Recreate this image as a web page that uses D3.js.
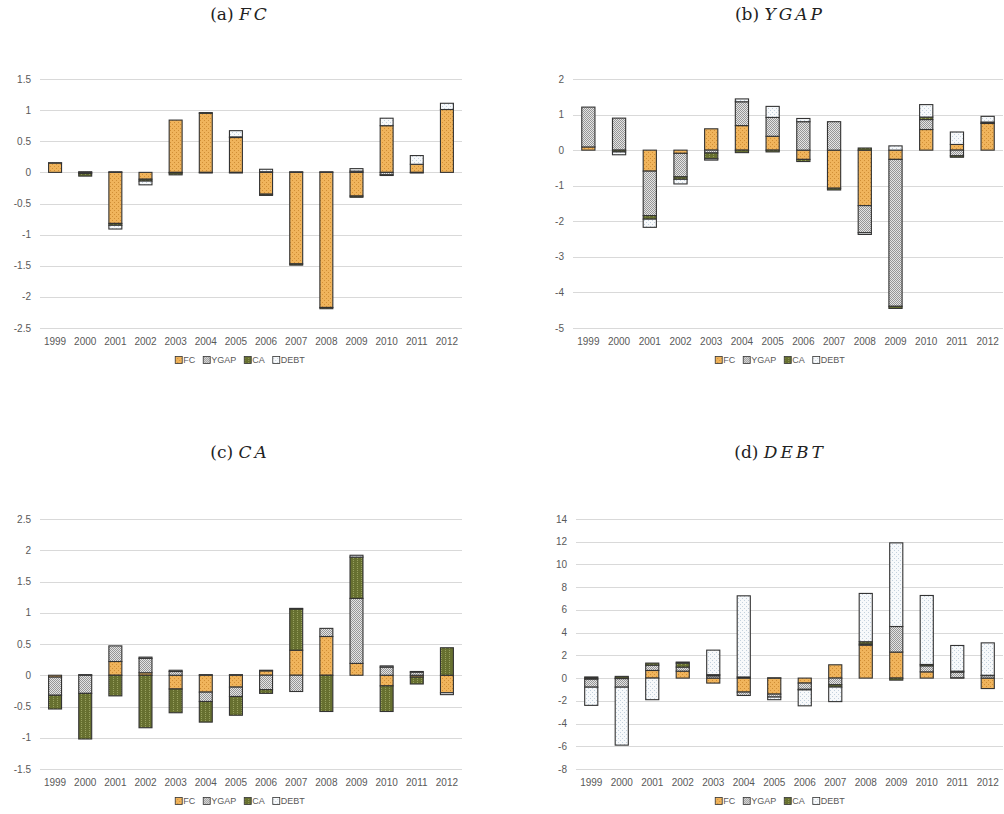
<!DOCTYPE html>
<html>
<head>
<meta charset="utf-8">
<script src="https://cdn.jsdelivr.net/npm/d3@7"></script>
<style>
  body { margin: 0; background: #fff; }
  svg { display: block; }
  .tick-label, .legend text { font-family: "Liberation Sans", Arial, sans-serif; fill: #595959; }
  .title { font-family: "DejaVu Serif", "Liberation Serif", serif; fill: #222; }
</style>
</head>
<body>
<div id="chart"></div>
<script>
/* DATA */

var years = ["1999","2000","2001","2002","2003","2004","2005","2006","2007","2008","2009","2010","2011","2012"];
var seriesNames = ["FC", "YGAP", "CA", "DEBT"];

// (a) FC decomposition
var fcFC   = [0.15, -0.02, -0.82, -0.11, 0.84, 0.95, 0.56, -0.35, -1.47, -2.17, -0.38, 0.75, 0.13, 1.01];
var fcYGAP = [0.005, 0.01, 0.01, 0, -0.01, -0.01, -0.01, 0.01, 0.01, 0, 0.02, -0.04, -0.01, 0];
var fcCA   = [0, -0.04, -0.03, -0.03, -0.03, 0.01, 0.01, -0.02, -0.02, -0.02, -0.02, -0.01, 0, 0];
var fcDEBT = [0, 0, -0.06, -0.06, 0, 0, 0.10, 0.04, 0, 0.01, 0.04, 0.12, 0.14, 0.10];

// (b) YGAP decomposition
var ygFC   = [0.09, 0, -0.59, -0.09, 0.60, 0.69, 0.39, -0.26, -1.07, -1.56, -0.26, 0.58, 0.16, 0.75];
var ygYGAP = [1.12, 0.90, -1.25, -0.66, -0.08, 0.67, 0.53, 0.80, 0.80, -0.76, -4.13, 0.28, -0.16, 0.01];
var ygCA   = [0, -0.05, -0.10, -0.07, -0.16, -0.07, -0.05, -0.06, -0.05, 0.06, -0.06, 0.07, -0.04, 0.03];
var ygDEBT = [0, -0.08, -0.23, -0.13, -0.04, 0.08, 0.31, 0.09, 0, -0.05, 0.12, 0.35, 0.35, 0.16];

// (c) CA decomposition
var caFC   = [-0.03, 0, 0.22, 0.04, -0.22, -0.27, -0.19, 0.07, 0.40, 0.62, 0.19, -0.17, -0.03, -0.28];
var caYGAP = [-0.29, -0.29, 0.25, 0.23, 0.06, -0.15, -0.15, -0.23, -0.26, 0.13, 1.04, 0.13, 0.05, 0];
var caCA   = [-0.22, -0.73, -0.33, -0.84, -0.38, -0.33, -0.30, -0.06, 0.66, -0.58, 0.66, -0.41, -0.11, 0.44];
var caDEBT = [0, 0.01, 0, 0.02, 0.02, 0.01, 0.01, 0.01, 0.01, 0, 0.03, 0.02, 0.01, -0.03];

// (d) DEBT decomposition
var dbFC   = [-0.10, -0.05, 0.67, 0.61, -0.44, -1.23, -1.41, -0.44, 1.17, 2.90, 2.29, 0.55, 0.03, -0.92];
var dbYGAP = [-0.70, -0.75, 0.47, 0.36, 0.20, -0.30, -0.26, -0.55, -0.59, 0.10, 2.25, 0.53, 0.50, 0.22];
var dbCA   = [0.10, 0.15, 0.18, 0.35, 0.10, 0.10, 0.02, -0.05, -0.20, 0.20, -0.18, 0.12, 0.08, 0.03];
var dbDEBT = [-1.60, -5.10, -1.90, 0.09, 2.16, 7.14, -0.23, -1.40, -1.28, 4.25, 7.36, 6.07, 2.26, 2.85];

var ticksA = [-2.5, -2, -1.5, -1, -0.5, 0, 0.5, 1, 1.5];
var ticksB = [-5, -4, -3, -2, -1, 0, 1, 2];
var ticksC = [-1.5, -1, -0.5, 0, 0.5, 1, 1.5, 2, 2.5];
var ticksD = [-8, -6, -4, -2, 0, 2, 4, 6, 8, 10, 12, 14];

/* CHART */

var W = 1004, H = 814;

var svg = d3.select("#chart").append("svg")
            .attr("width", W)
            .attr("height", H);

var defs = svg.append("defs");

// small textured fills, like the Excel pattern fills
function addPattern(id, bg, dot, size, spots) {
  var p = defs.append("pattern")
              .attr("id", id)
              .attr("patternUnits", "userSpaceOnUse")
              .attr("width", size)
              .attr("height", size);
  p.append("rect").attr("width", size).attr("height", size).attr("fill", bg);
  spots.forEach(function(s){
    p.append("rect").attr("x", s[0]).attr("y", s[1]).attr("width", 1).attr("height", 1).attr("fill", dot);
  });
}

var quincunx = [[0,0],[2,2]];
var checker = [[0,0],[2,0],[1,1],[3,1],[0,2],[2,2],[1,3],[3,3]];

addPattern("pFC", "#F0B45C", "#D08E35", 4, quincunx);
addPattern("pYGAP", "#E4E4E4", "#969696", 4, checker);
addPattern("pCA", "#677030", "#97A05E", 4, [[1,0],[1,2]]);
addPattern("pDEBT", "#F7F9FB", "#C3D1DD", 4, quincunx);

var fills = {FC: "url(#pFC)", YGAP: "url(#pYGAP)", CA: "url(#pCA)", DEBT: "url(#pDEBT)"};

var panels = [
  {letter: "(a) ", name: "FC", series: [fcFC, fcYGAP, fcCA, fcDEBT], ticks: ticksA,
   left: 40, right: 462, top: 79, bottom: 328, cx: 240, titleY: 20},
  {letter: "(b) ", name: "YGAP", series: [ygFC, ygYGAP, ygCA, ygDEBT], ticks: ticksB,
   left: 573, right: 1003, top: 79, bottom: 328, cx: 780, titleY: 20},
  {letter: "(c) ", name: "CA", series: [caFC, caYGAP, caCA, caDEBT], ticks: ticksC,
   left: 40, right: 462, top: 519, bottom: 769, cx: 240, titleY: 458},
  {letter: "(d) ", name: "DEBT", series: [dbFC, dbYGAP, dbCA, dbDEBT], ticks: ticksD,
   left: 576, right: 1003, top: 519, bottom: 769, cx: 780, titleY: 458}
];

function drawPanel(p){

  var rows = years.map(function(y, i){
    var r = {year: y};
    seriesNames.forEach(function(k, j){ r[k] = p.series[j][i]; });
    return r;
  });

  var stacked = d3.stack()
                  .keys(seriesNames)
                  .offset(d3.stackOffsetDiverging)(rows);

  var x = d3.scaleBand()
            .domain(years)
            .range([p.left, p.right]);

  var y = d3.scaleLinear()
            .domain(d3.extent(p.ticks))
            .range([p.bottom, p.top]);

  var g = svg.append("g");

  // gridlines
  g.selectAll("line.grid")
   .data(p.ticks)
   .enter().append("line")
   .attr("class", "grid")
   .attr("x1", p.left)
   .attr("x2", p.right)
   .attr("y1", function(d){ return Math.round(y(d)) + 0.5; })
   .attr("y2", function(d){ return Math.round(y(d)) + 0.5; })
   .attr("stroke", "#D9D9D9")
   .attr("stroke-width", 1);

  // y tick labels
  g.selectAll("text.ylab")
   .data(p.ticks)
   .enter().append("text")
   .attr("class", "tick-label")
   .attr("x", p.left - 9)
   .attr("y", function(d){ return y(d) + 3.5; })
   .attr("text-anchor", "end")
   .style("font-size", "10px")
   .text(function(d){ return String(d); });

  // x tick labels
  g.selectAll("text.xlab")
   .data(years)
   .enter().append("text")
   .attr("class", "tick-label")
   .attr("x", function(d){ return x(d) + x.bandwidth()/2; })
   .attr("y", p.bottom + 17)
   .attr("text-anchor", "middle")
   .style("font-size", "10px")
   .text(function(d){ return d; });

  // bars
  var bw = x.bandwidth() * 0.43;
  stacked.forEach(function(layer){
    g.selectAll(null)
     .data(layer)
     .enter().append("rect")
     .attr("x", function(d){ return x(d.data.year) + (x.bandwidth() - bw)/2; })
     .attr("y", function(d){ return y(Math.max(d[0], d[1])); })
     .attr("width", bw)
     .attr("height", function(d){ return Math.abs(y(d[0]) - y(d[1])); })
     .attr("fill", fills[layer.key])
     .attr("stroke", "#333")
     .attr("stroke-width", 1.1);
  });

  // legend
  var leg = g.append("g").attr("class", "legend");
  var lx = 0;
  seriesNames.forEach(function(k){
    leg.append("rect")
       .attr("x", lx).attr("y", -3.5)
       .attr("width", 7).attr("height", 7)
       .attr("fill", fills[k])
       .attr("stroke", "#333")
       .attr("stroke-width", 0.8);
    var t = leg.append("text")
               .attr("x", lx + 8)
               .attr("y", 3.3)
               .style("font-size", "9px")
               .text(k);
    lx += 8 + t.node().getComputedTextLength() + 8;
  });
  lx -= 8;
  leg.attr("transform", "translate(" + (p.cx - lx/2) + "," + (p.bottom + 32) + ")");

  // title
  var title = svg.append("text")
                 .attr("class", "title")
                 .attr("x", p.cx)
                 .attr("y", p.titleY)
                 .attr("text-anchor", "middle")
                 .style("font-size", "17px");
  title.append("tspan").text(p.letter);
  title.append("tspan")
       .style("font-style", "italic")
       .style("letter-spacing", "3px")
       .text(p.name);
}

panels.forEach(drawPanel);
</script>
</body>
</html>
